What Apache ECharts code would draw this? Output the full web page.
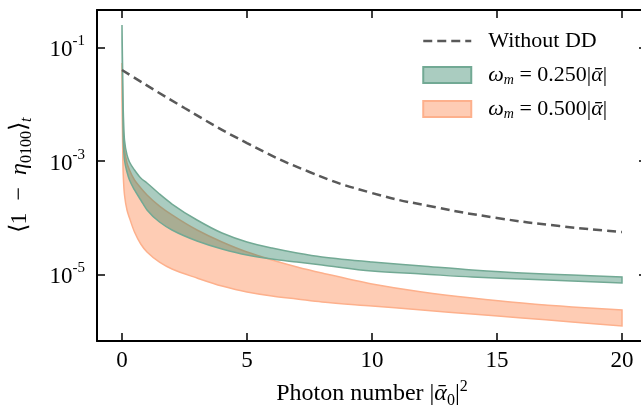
<!DOCTYPE html>
<html><head><meta charset="utf-8">
<script src="https://cdn.jsdelivr.net/npm/echarts@6/dist/echarts.min.js"></script>
<style>html,body{margin:0;padding:0;background:#fff}#c{width:641px;height:412px}</style>
</head><body><div id="c"></div><script>
// ---- data ----
const xs = [0, 0.05, 0.1, 0.2, 0.3, 0.5, 0.75, 1, 1.5, 2, 3, 4, 5, 6, 7, 8, 10, 12, 14, 16, 18, 20];
const green_upper = [0.251, 7.98e-3, 2.36e-3, 1.29e-3, 9.68e-4, 7.00e-4, 5.06e-4, 4.13e-4, 2.64e-4, 1.76e-4, 9.20e-5, 5.43e-5, 3.77e-5, 2.95e-5, 2.41e-5, 2.05e-5, 1.67e-5, 1.42e-5, 1.21e-5, 1.07e-5, 9.88e-6, 9.11e-6];
const green_lower = [0.137, 2.36e-3, 1.05e-3, 6.45e-4, 4.66e-4, 3.11e-4, 2.07e-4, 1.38e-4, 8.49e-5, 6.13e-5, 3.93e-5, 2.84e-5, 2.22e-5, 1.89e-5, 1.67e-5, 1.48e-5, 1.16e-5, 1.03e-5, 9.11e-6, 8.40e-6, 7.74e-6, 7.14e-6];
const orange_upper = [5.37e-2, 3.55e-3, 1.58e-3, 9.30e-4, 7.00e-4, 4.66e-4, 3.37e-4, 2.54e-4, 1.62e-4, 1.13e-4, 6.13e-5, 3.77e-5, 2.51e-5, 1.82e-5, 1.37e-5, 1.07e-5, 6.86e-6, 4.96e-6, 3.88e-6, 3.17e-6, 2.70e-6, 2.39e-6];
const orange_lower = [1.20e-2, 5.71e-4, 2.54e-4, 1.38e-4, 9.98e-5, 5.65e-5, 3.48e-5, 2.51e-5, 1.67e-5, 1.26e-5, 8.75e-6, 6.32e-6, 4.96e-6, 4.21e-6, 3.73e-6, 3.30e-6, 2.81e-6, 2.39e-6, 2.03e-6, 1.73e-6, 1.47e-6, 1.25e-6];
const dd_x = [0, 2.5, 5, 7.5, 10, 12.5, 15, 17.5, 20];
const dd_y = [4.05e-2, 8.65e-3, 2.09e-3, 6.46e-4, 2.75e-4, 1.56e-4, 1.00e-4, 7.2e-5, 5.65e-5];
const xTicks = [0, 5, 10, 15, 20];
const yTickExps = [-5, -3, -1];
const xRange = [-1, 21];
const yRangeExp = [-6.168, -0.336];
const names = ['Without DD', 'w025', 'w050'];

// ---- chart ----
const FONT = 'Liberation Serif';
const FS = 23;
const L = v => Math.log10(v);
const rich = {
  i:    {fontFamily: FONT, fontStyle: 'italic', fontSize: 24, lineHeight: 30, color: '#000'},
  sub:  {fontFamily: FONT, fontSize: 16, lineHeight: 16, verticalAlign: 'bottom', color: '#000'},
  isub: {fontFamily: FONT, fontStyle: 'italic', fontSize: 16, lineHeight: 16, verticalAlign: 'bottom', color: '#000'},
  sup:  {fontFamily: FONT, fontSize: 16, lineHeight: 16, verticalAlign: 'top', color: '#000'}
};
const legendRich = {
  i:    {fontFamily: FONT, fontStyle: 'italic', fontSize: 22, lineHeight: 24, color: '#000'},
  isub: {fontFamily: FONT, fontStyle: 'italic', fontSize: 14, lineHeight: 14, verticalAlign: 'bottom', color: '#000'}
};
const labelRich = {
  b:   {fontFamily: FONT, fontSize: FS, lineHeight: 28, verticalAlign: 'bottom', color: '#000'},
  sup: {fontFamily: FONT, fontSize: 15, lineHeight: 15, verticalAlign: 'top', color: '#000'}
};
const GREEN_FILL = 'rgba(42,127,98,0.4)', GREEN_EDGE = '#72a994';
const ORANGE_FILL = 'rgba(252,141,89,0.45)', ORANGE_EDGE = '#fdb08c';

// monotone cubic bezier segments through pixel points (rendering only)
function monoSegs(p) {
  const n = p.length, h = [], d = [], m = [];
  for (let i = 0; i < n - 1; i++) {
    h[i] = p[i + 1][0] - p[i][0];
    d[i] = (p[i + 1][1] - p[i][1]) / h[i];
  }
  m[0] = d[0]; m[n - 1] = d[n - 2];
  for (let i = 1; i < n - 1; i++) {
    if (d[i - 1] * d[i] <= 0) m[i] = 0;
    else m[i] = 3 * (h[i - 1] + h[i]) / ((2 * h[i] + h[i - 1]) / d[i - 1] + (h[i] + 2 * h[i - 1]) / d[i]);
  }
  const segs = [];
  for (let i = 0; i < n - 1; i++) {
    segs.push([p[i],
      [p[i][0] + h[i] / 3, p[i][1] + m[i] * h[i] / 3],
      [p[i + 1][0] - h[i] / 3, p[i + 1][1] - m[i + 1] * h[i] / 3],
      p[i + 1]]);
  }
  return segs;
}
const f = v => v.toFixed(2);

function bandSeries(lower, upper, name, fill, edge) {
  const data = xs.map((x, i) => [x, L(lower[i]), L(upper[i])]);
  return {
    type: 'custom', name: name, silent: true, z: 2,
    itemStyle: {color: fill},
    encode: {x: 0, y: [1, 2]},
    data: data,
    renderItem: function (params, api) {
      if (params.dataIndex !== 0) return null;
      const up = data.map(d => api.coord([d[0], d[2]]));
      const lo = data.map(d => api.coord([d[0], d[1]]));
      const su = monoSegs(up), sl = monoSegs(lo).reverse();
      let path = 'M' + f(up[0][0]) + ' ' + f(up[0][1]);
      su.forEach(s => { path += ' C' + [s[1], s[2], s[3]].map(q => f(q[0]) + ' ' + f(q[1])).join(' '); });
      path += ' L' + f(lo[lo.length - 1][0]) + ' ' + f(lo[lo.length - 1][1]);
      sl.forEach(s => { path += ' C' + [s[2], s[1], s[0]].map(q => f(q[0]) + ' ' + f(q[1])).join(' '); });
      path += ' Z';
      return {
        type: 'path',
        shape: {pathData: path},
        style: {fill: fill, stroke: edge, lineWidth: 1.5}
      };
    }
  };
}

const axisCommon = {
  axisLine: {show: true, onZero: false, lineStyle: {color: '#000', width: 2}},
  axisTick: {show: true, inside: true, length: 8, lineStyle: {color: '#000', width: 1.5}},
  splitLine: {show: false}
};

const legendLabels = {
  'Without DD': 'Without DD',
  'w025': '{i|ω}{isub|m} = 0.250|{i|ᾱ}|',
  'w050': '{i|ω}{isub|m} = 0.500|{i|ᾱ}|'
};

const option = {
  backgroundColor: '#fff',
  animation: false,
  grid: {left: 97, top: 10, right: -6, bottom: 71, containLabel: false, outerBoundsMode: 'none'},
  legend: {
    orient: 'vertical', left: 422, top: 29, itemWidth: 48, itemHeight: 16, itemGap: 10, padding: 0,
    selectedMode: false,
    textStyle: {fontFamily: FONT, fontSize: 22, lineHeight: 24, color: '#000', padding: [0, 0, 0, 12], rich: legendRich},
    formatter: n => legendLabels[n],
    data: [
      {name: names[0], itemStyle: {opacity: 0}, lineStyle: {width: 2.5, color: '#595959', type: [9, 5]}},
      {name: names[1], icon: 'rect', itemStyle: {color: GREEN_FILL, borderColor: GREEN_EDGE, borderWidth: 2}},
      {name: names[2], icon: 'rect', itemStyle: {color: ORANGE_FILL, borderColor: ORANGE_EDGE, borderWidth: 2}}
    ]
  },
  xAxis: [
    Object.assign({}, axisCommon, {
      type: 'value', position: 'bottom', min: xRange[0], max: xRange[1],
      axisTick: Object.assign({}, axisCommon.axisTick, {customValues: xTicks}),
      axisLabel: {customValues: xTicks, margin: 8, fontFamily: FONT, fontSize: FS, color: '#000'},
      name: 'Photon number |{i|ᾱ}{sub|0}|{sup|2}', nameLocation: 'middle', nameGap: 38,
      nameTextStyle: {fontFamily: FONT, fontSize: 24, lineHeight: 30, color: '#000', rich: rich}
    }),
    Object.assign({}, axisCommon, {
      type: 'value', position: 'top', min: xRange[0], max: xRange[1],
      axisTick: Object.assign({}, axisCommon.axisTick, {customValues: xTicks}),
      axisLabel: {show: false}
    })
  ],
  yAxis: [
    Object.assign({}, axisCommon, {
      type: 'value', position: 'left', min: yRangeExp[0], max: yRangeExp[1],
      axisTick: Object.assign({}, axisCommon.axisTick, {customValues: yTickExps}),
      axisLabel: {customValues: yTickExps, margin: 12, formatter: v => '{b|10}{sup|' + v + '}', rich: labelRich},
      name: '⟨1\u2002−\u2002{i|η}{sub|0100}⟩{isub|t}', nameLocation: 'middle', nameGap: 62, nameRotate: 90,
      nameTextStyle: {fontFamily: FONT, fontSize: 24, lineHeight: 30, color: '#000', rich: rich}
    }),
    Object.assign({}, axisCommon, {
      type: 'value', position: 'right', min: yRangeExp[0], max: yRangeExp[1],
      axisTick: Object.assign({}, axisCommon.axisTick, {customValues: yTickExps}),
      axisLabel: {show: false}
    })
  ],
  series: [
    bandSeries(orange_lower, orange_upper, names[2], ORANGE_FILL, ORANGE_EDGE),
    bandSeries(green_lower, green_upper, names[1], GREEN_FILL, GREEN_EDGE),
    {type: 'line', name: names[0], data: dd_x.map((x, i) => [x, L(dd_y[i])]), smooth: true,
      symbol: 'none', silent: true, lineStyle: {color: '#595959', width: 2.5, type: [9, 5]},
      itemStyle: {color: '#595959'}, z: 5}
  ]
};
const chart = echarts.init(document.getElementById('c'), null, {renderer: 'canvas'});
chart.setOption(option);
</script></body></html>
